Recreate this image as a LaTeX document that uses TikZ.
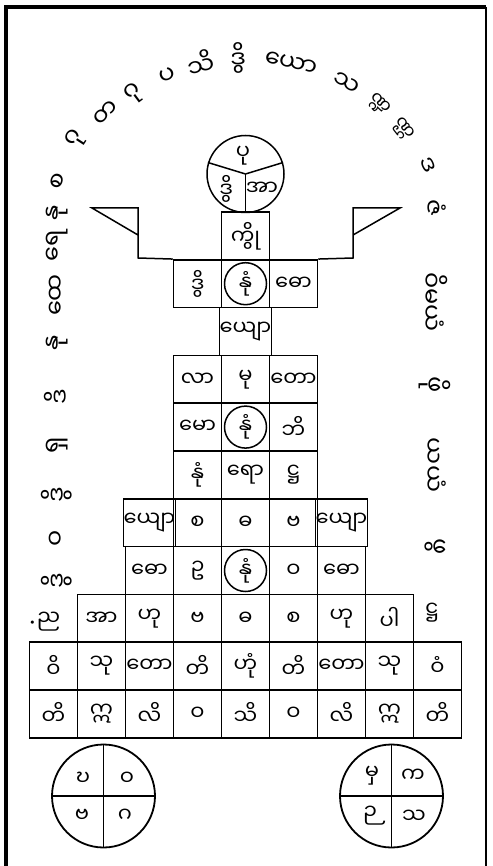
\documentclass[tikz,border=0pt]{standalone}
\usepackage{fontspec}
\newfontfamily\mmfont[Script=Myanmar]{Noto Sans Myanmar UI}

\begin{document}
\begin{tikzpicture}[
  x=1pt, y=-1pt,
  cell/.style={draw, line width=1.5pt, minimum width=48pt, minimum height=47.8pt, inner sep=0pt, font=\mmfont\fontsize{21}{23}\selectfont},
  knot/.style={circle, draw, line width=1.5pt, minimum size=42pt, inner sep=0pt},
  glyph/.style={inner sep=0pt, font=\mmfont\fontsize{21}{23}\selectfont},
  word/.style={inner sep=0pt, font=\mmfont\fontsize{24}{26}\selectfont},
  seal/.style={circle, draw, line width=1.8pt, minimum size=103pt, inner sep=0pt}
]
  \fill[white] (0,0) rectangle (492,866);
  \useasboundingbox (0,0) rectangle (492,866);
  % frame
  \draw[line width=4.5pt] (6,866) -- (6,7) -- (486,7);
  \draw[line width=1.5pt] (486,7) -- (486,866);

  % the figure: rows of cells
  \foreach \row/\first/\labels in {
    1/0/{ကွို},
    2/-1/{ဒွိ,နုံ,ဓော},
    3/0/{ယျော},
    4/-1/{လာ,မု,တော},
    5/-1/{မော,နုံ,ဘိ},
    6/-1/{နုံ,ရော,ဋ္ဌ},
    7/-2/{ယျော,စ,ဓ,ဗ,ယျော},
    8/-2/{ဓော,ဥ,နုံ,ဝ,ဓော},
    9/-3/{အာ,ဟု,ဗ,ဓ,စ,ဟု,ပါ},
    10/-4/{ဝိ,သု,တော,တိ,ဟုံ,တိ,တော,သု,ဝံ},
    11/-4/{တိ,ဣ,လိ,ဝ,သိ,ဝ,လိ,ဣ,တိ}}
    \foreach \t [count=\n] in \labels
      \node[cell] (cell-\row-\n) at ({245.5+48*(\first+\n-1)}, {212+47.8*(\row-0.5)}) {\t};
  \foreach \row/\n in {2/2, 5/2, 8/3}
    \node[knot] (knot-\row) at (cell-\row-\n) {};

  % head
  \node[circle, draw, line width=1.5pt, minimum size=77pt, inner sep=0pt] (head) at (245.5,174) {};
  \draw[line width=1.5pt] (head.center) -- (head.south);
  \draw[line width=1.5pt] (head.center) -- (head.163);
  \draw[line width=1.5pt] (head.center) -- (head.17);
  \node[glyph] (head-top) at (243,156) {ပု};
  \node[glyph] (head-left) at (226,189) {ဒွိ};
  \node[glyph] (head-right) at (262,189) {အာ};

  % flags
  \draw[line width=1.5pt] (cell-2-1.north west) -- (138,258) -- (138,208) -- (92,208) -- (138,235);
  \draw[line width=1.5pt] (cell-2-3.north east) -- (353,258) -- (353,208) -- (400,208) -- (353,235);

  % words round the figure
  \foreach \px/\py/\rot/\t [count=\i] in {
    44/622/0/{{\rmfamily\fontsize{12}{12}\selectfont •}{\fontsize{21}{23}\selectfont ည}},
    57/581/90/ဒွိ, 57/538/90/ဝ, 57/495/90/ဒွိ, 57/445/90/ရှ, 57/397/90/ဒိ,
    57/343/90/နု, 57/295/90/ထေ, 57/246/90/ရေ, 57/213/90/နု, 59/181/72/စ,
    76/139/57/ဂု, 106/113/46/တ, 134/94/37/ဂု, 168/76/24/ပ, 201/63/14/သိ,
    238/58/2/ဒွိ, 291/64/-13/ယော, 346/84/-30/သ,
    427/165/-66/ဒ,
    435/208/-90/ဇံ, 435/302/-90/ဝိမယံ, 435/385/-90/ဖို, 435/465/-90/ယယံ,
    435/547/-90/ဖွ, 432/613/0/{\fontsize{21}{23}\selectfont ဋ္ဌ}}
    \node[word, rotate=\rot] (word-\i) at (\px,\py) {\t};
  \node[word, font=\mmfont\fontsize{18}{20}\selectfont, rotate=-43] (word-s1) at (379,105) {ဏ္ဍ};
  \node[word, font=\mmfont\fontsize{18}{20}\selectfont, rotate=-52] (word-s2) at (403,129) {ဏ္ဌ};

  % seals
  \node[seal] (seal-l) at (103.5,796) {};
  \draw[line width=1.8pt] (seal-l.north) -- (seal-l.south);
  \draw[line width=1.8pt] (seal-l.west) -- (seal-l.east);
  \node[glyph] (seal-l1) at (83,779) {ဎ};
  \node[glyph] (seal-l2) at (127,779) {ဝ};
  \node[glyph] (seal-l3) at (82,816) {ဗ};
  \node[glyph] (seal-l4) at (125,816) {ဂ};
  \node[seal] (seal-r) at (391.5,796) {};
  \draw[line width=1.8pt] (seal-r.north) -- (seal-r.south);
  \draw[line width=1.8pt] (seal-r.west) -- (seal-r.east);
  \node[glyph] (seal-r1) at (372,776) {မှ};
  \node[glyph] (seal-r2) at (413,776) {က};
  \node[glyph] (seal-r3) at (370,816) {ဉ};
  \node[glyph] (seal-r4) at (414,817) {သ};
\end{tikzpicture}
\end{document}
